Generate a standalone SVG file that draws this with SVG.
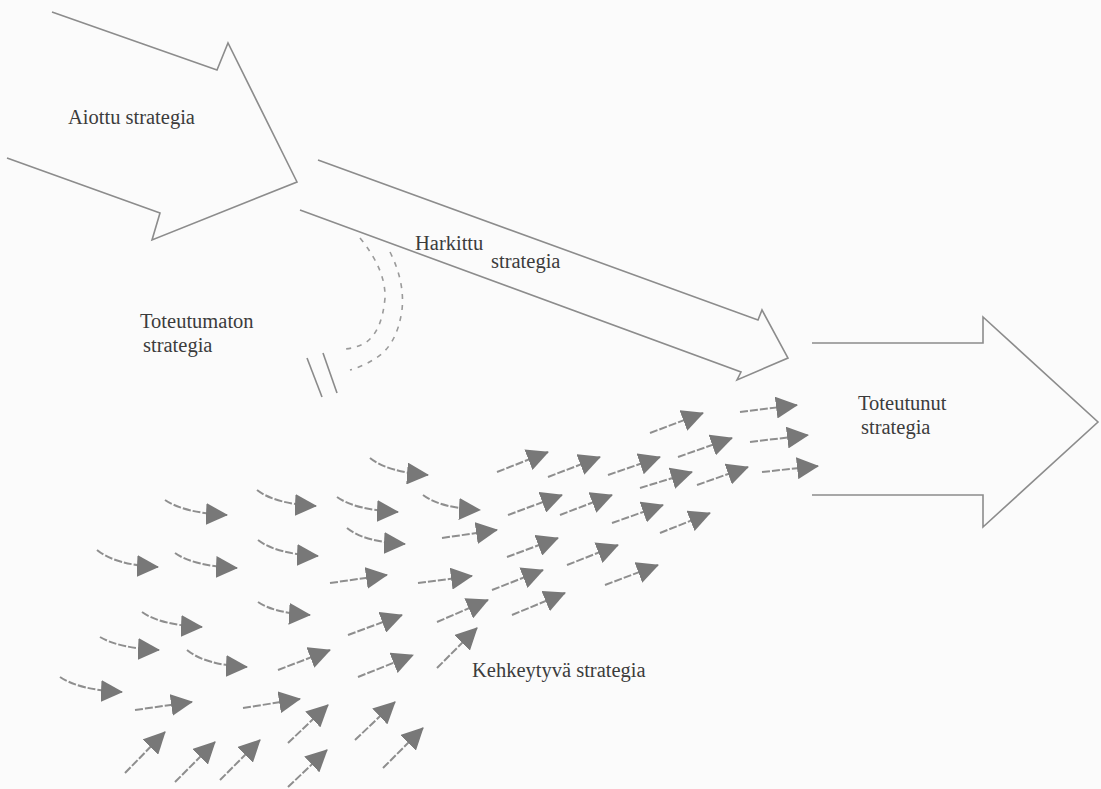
<svg xmlns="http://www.w3.org/2000/svg" width="1101" height="789" viewBox="0 0 1101 789">
<style>
.big{fill:none;stroke:#8c8c8c;stroke-width:1.6;stroke-linejoin:miter}
.lbl{font-family:"Liberation Serif","Times New Roman",serif;font-size:20.5px;fill:#3c3c3c}
.sh{fill:none;stroke:#8e8e8e;stroke-width:2;stroke-dasharray:8 2;marker-end:url(#ah)}
.dash{fill:none;stroke:#9a9a9a;stroke-width:1.6;stroke-dasharray:5 6}
.tick{stroke:#8a8a8a;stroke-width:1.6}
</style>
<defs>
<marker id="ah" markerUnits="userSpaceOnUse" markerWidth="22" markerHeight="22" viewBox="0 0 22 22" refX="21" refY="11" orient="auto">
<path d="M0,0 L22,11 L0,22 z" fill="#787878"/>
</marker>
</defs>
<rect width="1101" height="789" fill="#fbfbfb"/>

<g id="aiottu">
<polyline class="big" points="52,12 217,70 228,43 297,182 152,240 160,213 7,158"/>
<text class="lbl" x="68" y="124">Aiottu strategia</text>
</g>

<g id="harkittu">
<polyline class="big" points="318,160 758,320 762,310 788,358 737,380 741,372 300,210"/>
<text class="lbl" x="415" y="250">Harkittu</text>
<text class="lbl" x="491" y="268">strategia</text>
</g>

<g id="toteutumaton">
<path class="dash" d="M360,238 Q386,270 385,298 Q382,332 365,343 Q356,348 345,349"/>
<path class="dash" d="M390,252 Q405,282 402,310 Q397,345 376,358 Q364,366 350,370"/>
<line class="tick" x1="307" y1="358" x2="322" y2="397"/>
<line class="tick" x1="323" y1="353" x2="337" y2="393"/>
<text class="lbl" x="140" y="328">Toteutumaton</text>
<text class="lbl" x="143" y="352">strategia</text>
</g>

<g id="toteutunut">
<polyline class="big" points="812,343 983,343 983,317 1098,422 983,527 983,495 812,495"/>
<text class="lbl" x="858" y="410">Toteutunut</text>
<text class="lbl" x="861" y="434">strategia</text>
</g>

<g id="kehkeytyva">
<text class="lbl" x="472" y="677">Kehkeytyvä strategia</text>
</g>

<g id="connectors">
<path class="sh" d="M370,458 Q387,472 428,475"/>
<path class="sh" d="M165,500 Q184,513 227,515"/>
<path class="sh" d="M257,490 Q275,504 316,506"/>
<path class="sh" d="M337,497 Q355,510 398,512"/>
<path class="sh" d="M423,495 Q440,508 480,510"/>
<path class="sh" d="M347,528 Q364,542 405,544"/>
<path class="sh" d="M97,550 Q115,565 158,567"/>
<path class="sh" d="M175,553 Q193,566 237,568"/>
<path class="sh" d="M258,540 Q276,554 318,556"/>
<path class="sh" d="M258,602 Q274,613 310,615"/>
<path class="sh" d="M142,612 Q160,625 202,627"/>
<path class="sh" d="M100,637 Q118,648 159,650"/>
<path class="sh" d="M187,650 Q205,665 247,667"/>
<path class="sh" d="M60,677 Q79,690 122,692"/>
<path class="sh" d="M442,538 L497,530"/>
<path class="sh" d="M330,583 L387,575"/>
<path class="sh" d="M418,583 L472,576"/>
<path class="sh" d="M348,635 L402,615"/>
<path class="sh" d="M437,622 L488,600"/>
<path class="sh" d="M437,668 L477,628"/>
<path class="sh" d="M278,670 L330,650"/>
<path class="sh" d="M358,677 L413,655"/>
<path class="sh" d="M135,710 L192,702"/>
<path class="sh" d="M243,708 L300,699"/>
<path class="sh" d="M288,743 L328,705"/>
<path class="sh" d="M355,740 L395,702"/>
<path class="sh" d="M125,773 L165,732"/>
<path class="sh" d="M175,782 L215,742"/>
<path class="sh" d="M220,780 L260,740"/>
<path class="sh" d="M288,787 L327,750"/>
<path class="sh" d="M383,768 L423,728"/>
<path class="sh" d="M497,472 L548,452"/>
<path class="sh" d="M548,477 L600,457"/>
<path class="sh" d="M608,475 L660,457"/>
<path class="sh" d="M650,433 L703,413"/>
<path class="sh" d="M740,412 L797,405"/>
<path class="sh" d="M678,457 L732,438"/>
<path class="sh" d="M750,442 L808,435"/>
<path class="sh" d="M640,488 L692,472"/>
<path class="sh" d="M697,485 L748,467"/>
<path class="sh" d="M762,472 L818,466"/>
<path class="sh" d="M508,515 L562,495"/>
<path class="sh" d="M560,515 L612,495"/>
<path class="sh" d="M612,523 L663,505"/>
<path class="sh" d="M660,533 L710,513"/>
<path class="sh" d="M507,557 L558,538"/>
<path class="sh" d="M567,565 L618,545"/>
<path class="sh" d="M492,590 L543,570"/>
<path class="sh" d="M605,585 L658,565"/>
<path class="sh" d="M512,615 L565,593"/>
</g>
</svg>
